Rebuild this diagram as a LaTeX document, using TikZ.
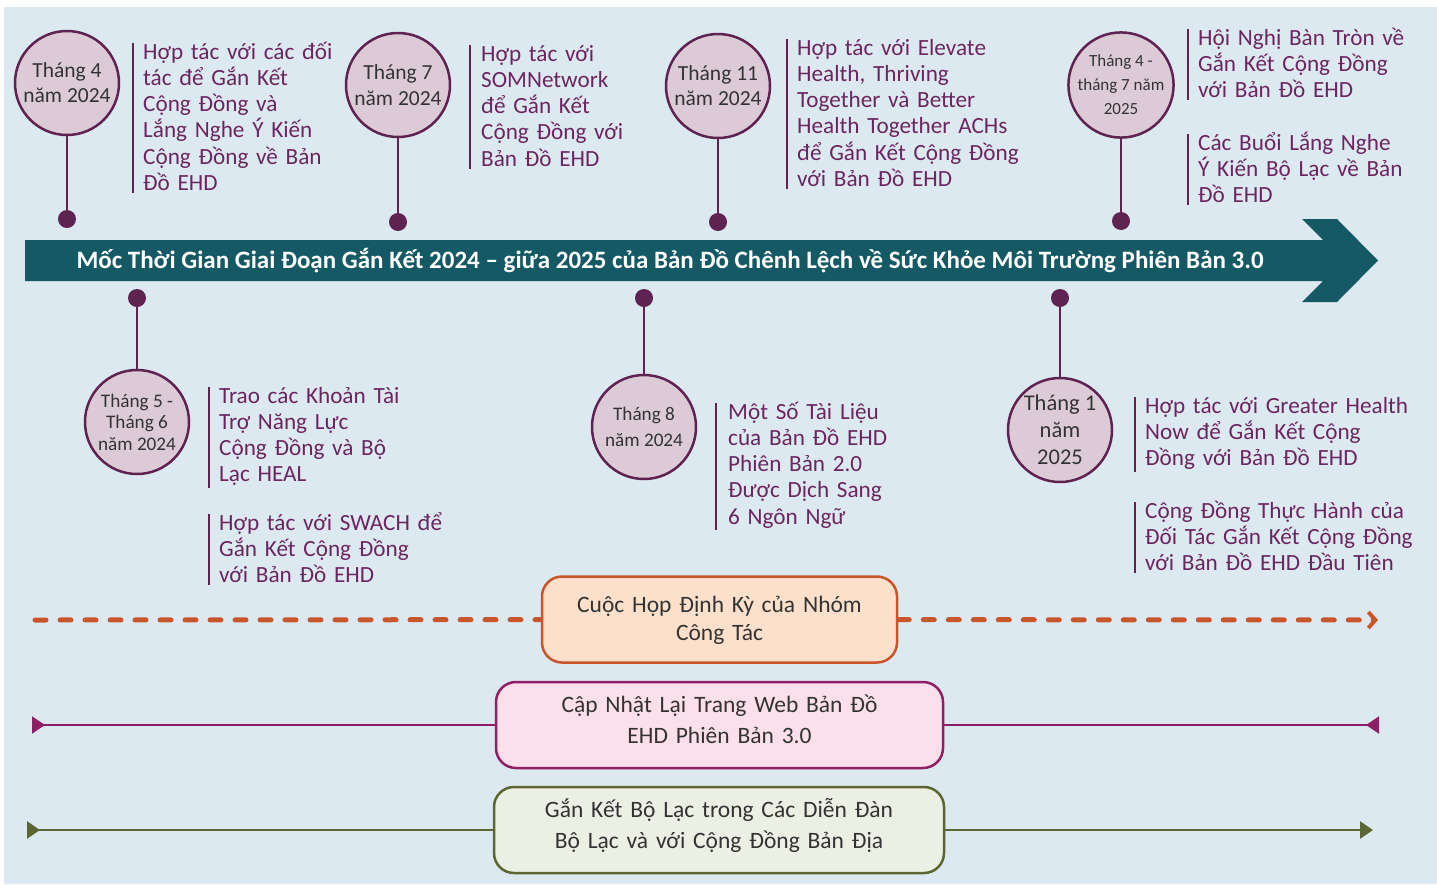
\documentclass[tikz,border=0pt]{standalone}
\usepackage{fontspec}
\setmainfont{Carlito}
\usetikzlibrary{arrows.meta, positioning}

\definecolor{bgblue}{HTML}{DDE9F1}
\definecolor{bannerteal}{HTML}{155965}
\definecolor{plum}{HTML}{5E2350}
\definecolor{circfill}{HTML}{DCCBD7}
\definecolor{desctext}{HTML}{6B2660}
\definecolor{circtext}{HTML}{333333}
\definecolor{meetorange}{HTML}{C9552A}
\definecolor{meetfill}{HTML}{FDE0CB}
\definecolor{webpink}{HTML}{8E1F64}
\definecolor{webfill}{HTML}{FBDFEA}
\definecolor{triolive}{HTML}{5B6632}
\definecolor{trifill}{HTML}{ECEFE3}

\tikzset{
  month/.style={circle, draw=plum, line width=2.5pt, fill=circfill, minimum size=104pt,
    inner sep=0pt, align=center, text=circtext},
  knob/.style={circle, fill=plum, minimum size=18pt, inner sep=0pt},
  stem/.style={draw=plum, line width=2.5pt},
  event/.style={anchor=base west, text width=300pt, align=left, inner sep=0pt,
    text=desctext, font=\fontsize{23.2}{26.3}\selectfont},
  bar/.style={draw=plum, line width=1.2pt},
  phase/.style={rounded corners=20pt, line width=2.5pt, minimum height=86pt,
    inner sep=0pt, text width=440pt, align=center, text height=20pt, text depth=46pt,
    text=circtext, font=\fontsize{23.5}{31}\selectfont},
}

\begin{document}
\begin{tikzpicture}[x=1pt, y=-1pt]
  \useasboundingbox (0,0) rectangle (1437,884);
  \fill[bgblue] (4,7) rectangle (1437,884);

  % banner
  \fill[bannerteal] (25,240) -- (1323,240) -- (1302,219) -- (1337,219) -- (1378,260.5)
    -- (1337,302) -- (1302,302) -- (1323,281) -- (25,281) -- cycle;
  \node[text=white, font=\bfseries\fontsize{25}{28}\selectfont] (title) at (670,261)
    {Mốc Thời Gian Giai Đoạn Gắn Kết 2024 – giữa 2025 của Bản Đồ Chênh Lệch về Sức Khỏe Môi Trường Phiên Bản 3.0};

  % months
  \node[month, font=\fontsize{21.5}{25}\selectfont] (c1) at (67,83) {Tháng 4\\năm 2024};
  \node[month, font=\fontsize{21.5}{26}\selectfont] (c2) at (398,85) {Tháng 7\\năm 2024};
  \node[month, font=\fontsize{21.5}{25}\selectfont] (c3) at (718,86) {Tháng 11\\năm 2024};
  \node[month, font=\fontsize{17}{24}\selectfont] (c4) at (1121,85) {Tháng 4 -\\tháng 7 năm\\2025};
  \node[month, font=\fontsize{19.2}{21.5}\selectfont] (c5) at (137,422) {Tháng 5 -\\Tháng 6\\năm 2024};
  \node[month, font=\fontsize{19.2}{26}\selectfont] (c6) at (644,427) {Tháng 8\\năm 2024};
  \node[month, font=\fontsize{22.5}{27}\selectfont] (c7) at (1060,430) {Tháng 1\\năm\\2025};

  \node[knob] (d1) at (67,219) {};
  \node[knob] (d2) at (398,222) {};
  \node[knob] (d3) at (718,222) {};
  \node[knob] (d4) at (1121,221) {};
  \node[knob] (d5) at (137,298) {};
  \node[knob] (d6) at (644,298) {};
  \node[knob] (d7) at (1060,298) {};

  \draw[stem] (d1) -- (c1);
  \draw[stem] (d2) -- (c2);
  \draw[stem] (d3) -- (c3);
  \draw[stem] (d4) -- (c4);
  \draw[stem] (d5) -- (c5);
  \draw[stem] (d6) -- (c6);
  \draw[stem] (d7) -- (c7);

  % events
  \node[event] (t1) at (143,59) {Hợp tác với các đối\\tác để Gắn Kết\\Cộng Đồng và\\Lắng Nghe Ý Kiến\\Cộng Đồng về Bản\\Đồ EHD};
  \node[event] (t2) at (481,61) {Hợp tác với\\SOMNetwork\\để Gắn Kết\\Cộng Đồng với\\Bản Đồ EHD};
  \node[event] (t3) at (797,55) {Hợp tác với Elevate\\Health, Thriving\\Together và Better\\Health Together ACHs\\để Gắn Kết Cộng Đồng\\với Bản Đồ EHD};
  \node[event] (t4) at (1198,45) {Hội Nghị Bàn Tròn về\\Gắn Kết Cộng Đồng\\với Bản Đồ EHD};
  \node[event] (t4b) at (1198,150) {Các Buổi Lắng Nghe\\Ý Kiến Bộ Lạc về Bản\\Đồ EHD};
  \node[event] (t5) at (219,403) {Trao các Khoản Tài\\Trợ Năng Lực\\Cộng Đồng và Bộ\\Lạc HEAL};
  \node[event] (t5b) at (219,530) {Hợp tác với SWACH để\\Gắn Kết Cộng Đồng\\với Bản Đồ EHD};
  \node[event] (t6) at (728,419) {Một Số Tài Liệu\\của Bản Đồ EHD\\Phiên Bản 2.0\\Được Dịch Sang\\6 Ngôn Ngữ};
  \node[event] (t7) at (1145,413) {Hợp tác với Greater Health\\Now để Gắn Kết Cộng\\Đồng với Bản Đồ EHD};
  \node[event] (t7b) at (1145,518) {Cộng Đồng Thực Hành của\\Đối Tác Gắn Kết Cộng Đồng\\với Bản Đồ EHD Đầu Tiên};

  \draw[bar] ([shift={(-10,-16)}]t1.base west) -- ([shift={(-10,2)}]t1.south west);
  \draw[bar] ([shift={(-11,-16)}]t2.base west) -- ([shift={(-11,2)}]t2.south west);
  \draw[bar] ([shift={(-10,-16)}]t3.base west) -- ([shift={(-10,2)}]t3.south west);
  \draw[bar] ([shift={(-10,-16)}]t4.base west) -- ([shift={(-10,2)}]t4.south west);
  \draw[bar] ([shift={(-10,-16)}]t4b.base west) -- ([shift={(-10,2)}]t4b.south west);
  \draw[bar] ([shift={(-10,-16)}]t5.base west) -- ([shift={(-10,2)}]t5.south west);
  \draw[bar] ([shift={(-10,-16)}]t5b.base west) -- ([shift={(-10,2)}]t5b.south west);
  \draw[bar] ([shift={(-12,-16)}]t6.base west) -- ([shift={(-12,2)}]t6.south west);
  \draw[bar] ([shift={(-10,-16)}]t7.base west) -- ([shift={(-10,2)}]t7.south west);
  \draw[bar] ([shift={(-10,-16)}]t7b.base west) -- ([shift={(-10,2)}]t7b.south west);

  % phases
  \node[phase, draw=meetorange, fill=meetfill, minimum width=355pt, text width=340pt,
    text depth=35pt, font=\fontsize{23.5}{28}\selectfont] (mtg) at (719.5,619.5) {Cuộc Họp Định Kỳ của Nhóm\\Công Tác};
  \node[phase, draw=webpink, fill=webfill, minimum width=447pt] (web) at (719.5,725) {Cập Nhật Lại Trang Web Bản Đồ\\EHD Phiên Bản 3.0};
  \node[phase, draw=triolive, fill=trifill, minimum width=450pt] (tribe) at (719,830) {Gắn Kết Bộ Lạc trong Các Diễn Đàn\\Bộ Lạc và với Cộng Đồng Bản Địa};

  \coordinate (oL) at (35,620);
  \coordinate (oR) at (1378,620);
  \coordinate (pL) at (32,725);
  \coordinate (pR) at (1379,725);
  \coordinate (gL) at (27,830);
  \coordinate (gR) at (1373,830);

  \draw[meetorange, line width=5pt, line cap=round, dash pattern=on 11pt off 14pt] (oL) -- (mtg);
  \draw[meetorange, line width=5pt, line cap=round, dash pattern=on 11pt off 14pt,
    -{Straight Barb[length=7pt, width=16pt, line width=4pt]}] (mtg) -- (oR);
  \draw[webpink, line width=2pt, {Triangle[length=13pt, width=17pt, reversed]}-] (pL) -- (web);
  \draw[webpink, line width=2pt, -{Triangle[length=13pt, width=17pt, reversed]}] (web) -- (pR);
  \draw[triolive, line width=2.5pt, {Triangle[length=13pt, width=17pt, reversed]}-] (gL) -- (tribe);
  \draw[triolive, line width=2.5pt, -{Triangle[length=13pt, width=17pt]}] (tribe) -- (gR);
\end{tikzpicture}
\end{document}
